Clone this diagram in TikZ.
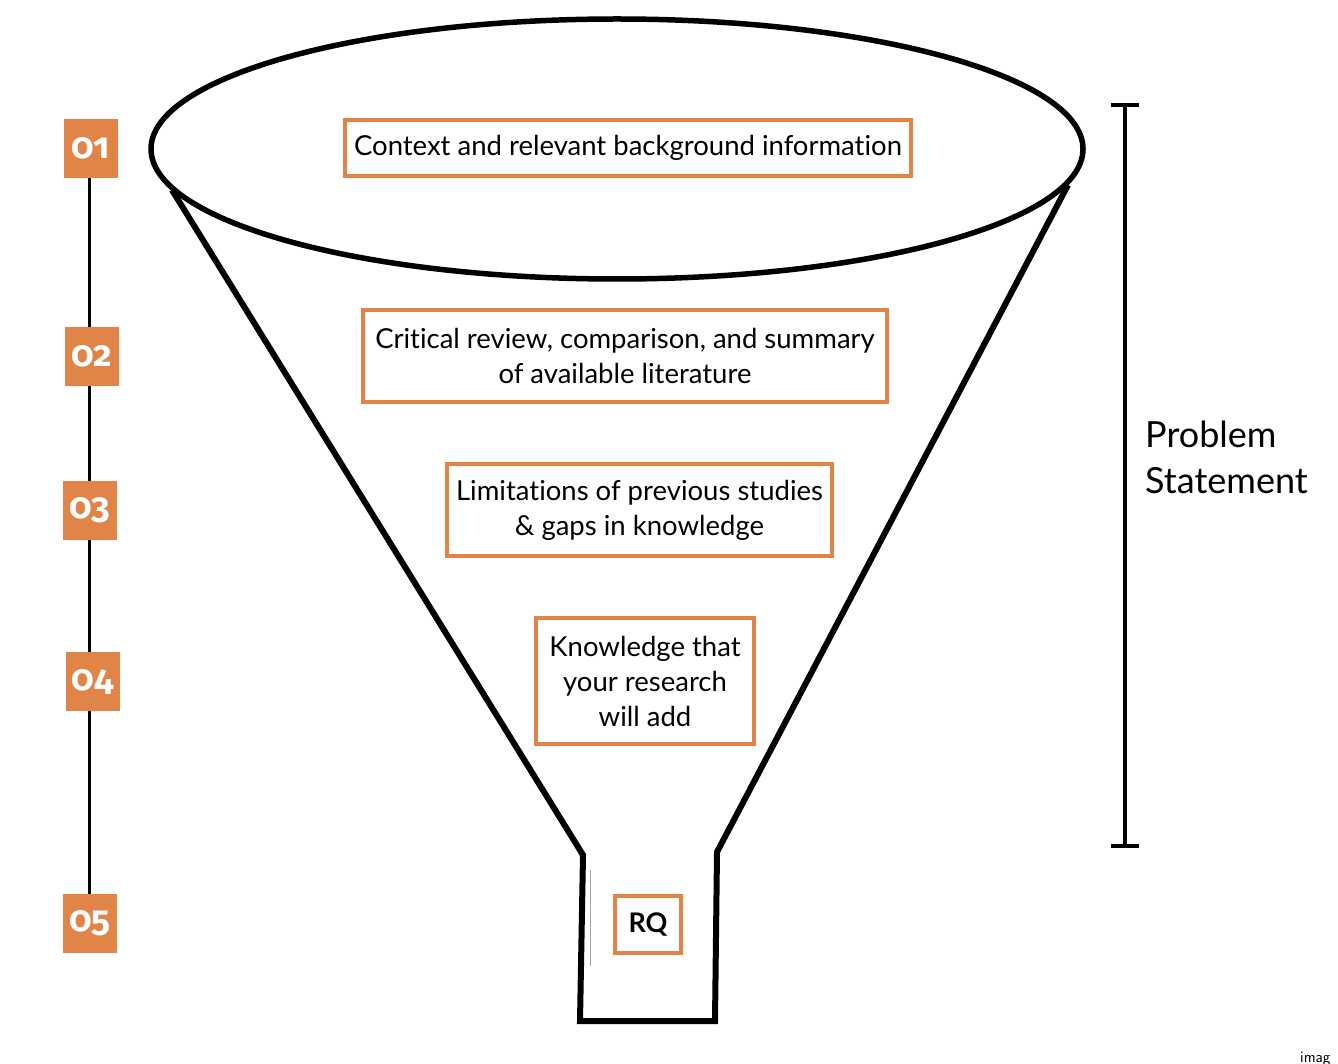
\documentclass[tikz,border=0pt]{standalone}
\usepackage{fontspec}
\setmainfont{Lato}[Ligatures={NoCommon}]
\newfontfamily\badgefont[Numbers=OldStyle]{Fira Sans}
\usepackage{xcolor}
\usepackage{tikz}
\usetikzlibrary{positioning,shapes,calc}
\definecolor{funnelorange}{RGB}{224,132,72}

\begin{document}
\begin{tikzpicture}[
    x=1pt, y=-1pt,
    layer/.style={rectangle, draw=funnelorange, line width=4.5pt, fill=white, align=center, inner sep=0pt, font=\fontsize{27.5}{35}\selectfont},
    badge/.style={rectangle, fill=funnelorange, minimum width=54pt, minimum height=59pt, inner sep=0pt, text=white, font=\badgefont\bfseries\fontsize{36}{36}\selectfont},
    funnel/.style={line width=6pt, line join=miter}
]
\useasboundingbox (0,0) rectangle (1338,1064);
% timeline of the steps
\coordinate (t1) at (89,178);\coordinate (t5) at (89,894);
\draw[line width=3pt] (t1) -- (t5);
\node[badge] (b1) at (91,148.5) {01};
\node[badge] (b2) at (91.5,356.5) {02};
\node[badge] (b3) at (90,510.5) {03};
\node[badge] (b4) at (92.5,681.5) {04};
\node[badge] (b5) at (90,923.5) {05};
% funnel
\node[ellipse, draw, line width=5.5pt, minimum width=932pt, minimum height=260pt] (top) at (617,149) {};
\coordinate (lt) at (172,190);\coordinate (rt) at (1068,185);
\coordinate (ln) at (583,855);\coordinate (rn) at (717,852);
\coordinate (lb) at (580,1021);\coordinate (rb) at (715,1021);
\draw[funnel] (lt) -- (ln) -- (lb) -- (rb) -- (rn) -- (rt);
\coordinate (g1) at (590,870);\coordinate (g2) at (590,966);
\draw[gray!70, line width=1pt] (g1) -- (g2);
% layers
\node[layer, minimum width=566pt, minimum height=56pt] (l1) at (628,148) {\raisebox{-2pt}{Context and relevant background information}};
\node[layer, minimum width=524pt, minimum height=92pt] (l2) at (625,356) {Critical review, comparison, and summary\\of available literature};
\node[layer, minimum width=385pt, minimum height=92pt] (l3) at (639.5,510) {Limitations of previous studies\\\& gaps in knowledge};
\node[layer, minimum width=218pt, minimum height=126pt] (l4) at (645,681) {Knowledge that\\your research\\will add};
\node[layer, minimum width=66pt, minimum height=57pt, font=\bfseries\fontsize{27}{30}\selectfont] (rq) at (648,924.5) {RQ};
% problem statement bracket
\coordinate (pt) at (1125,105);\coordinate (pb) at (1125,846);
\draw[line width=4.5pt] (pt) -- (pb);
\draw[line width=4.5pt] ($(pt)+(-14,0)$) -- ($(pt)+(14,0)$);
\draw[line width=4.5pt] ($(pb)+(-14,0)$) -- ($(pb)+(14,0)$);
\node[anchor=west, align=left, inner sep=0pt, font=\fontsize{36}{46}\selectfont] (ps) at (1145,457) {Problem\\Statement};
\node[anchor=north west, inner sep=0pt, font=\sffamily\fontsize{16}{16}\selectfont] (im) at (1300,1052) {imag};
\end{tikzpicture}
\end{document}
